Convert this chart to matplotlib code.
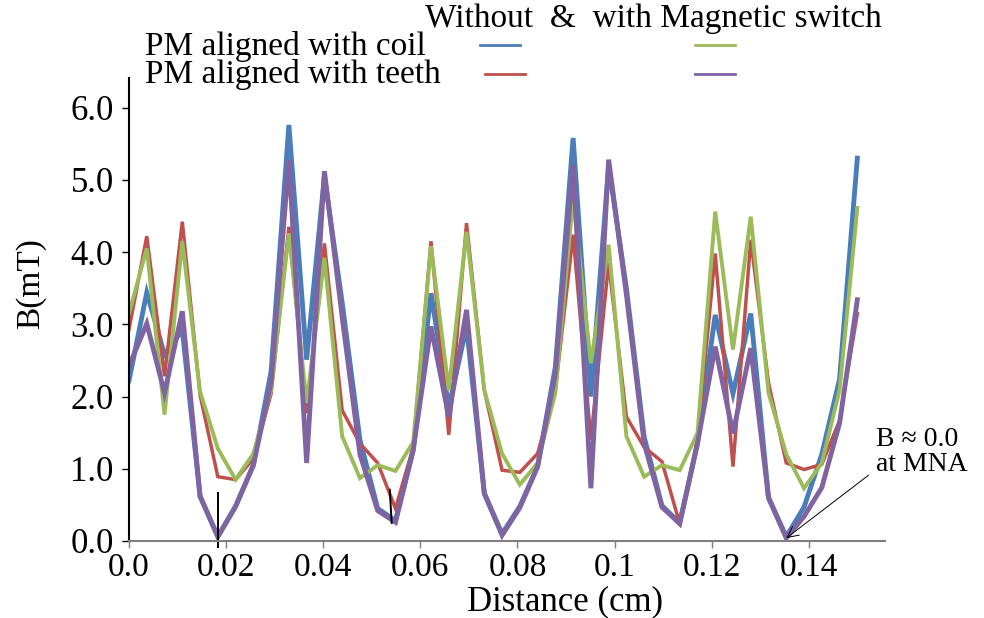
import matplotlib
matplotlib.use('Agg')
import matplotlib.pyplot as plt
from matplotlib.lines import Line2D
import numpy as np

plt.rcParams['font.family'] = ['Liberation Serif', 'DejaVu Serif']

# --- data: B (mT) along distance, 42 samples over 0..0.15 cm ---
n_pts = 42
x_max = 0.15
distance = np.arange(n_pts) * x_max / (n_pts - 1)

coil_without = [2.22, 3.44, 2.58, 2.92, 0.62, 0.06, 0.48, 1.05, 2.35, 5.76,
                2.51, 5.05, 3.30, 1.40, 0.45, 0.28, 1.26, 3.43, 1.85, 2.97,
                0.66, 0.10, 0.48, 1.03, 2.41, 5.58, 2.00, 5.20, 3.50, 1.44,
                0.49, 0.25, 1.35, 3.13, 2.04, 3.15, 0.60, 0.06, 0.47, 1.20,
                2.24, 5.30]
teeth_without = [2.93, 4.22, 2.28, 4.42, 2.02, 0.89, 0.85, 1.14, 2.04, 4.35,
                 1.77, 4.12, 1.81, 1.35, 1.08, 0.45, 1.30, 4.15, 1.47, 4.40,
                 2.09, 0.98, 0.95, 1.21, 2.09, 4.24, 1.40, 3.85, 1.72, 1.30,
                 1.10, 0.24, 1.40, 3.98, 1.03, 4.17, 2.19, 1.08, 0.99, 1.06,
                 1.67, 3.15]
coil_with = [3.15, 4.05, 1.75, 4.15, 2.07, 1.28, 0.85, 1.21, 2.09, 4.26,
             1.91, 3.92, 1.45, 0.87, 1.05, 0.97, 1.37, 4.08, 2.09, 4.28,
             2.09, 1.21, 0.78, 1.08, 2.05, 4.75, 2.46, 4.10, 1.45, 0.89,
             1.05, 0.98, 1.49, 4.56, 2.65, 4.49, 2.05, 1.20, 0.73, 1.08,
             2.09, 4.61]
teeth_with = [2.42, 3.01, 2.05, 3.18, 0.62, 0.06, 0.48, 1.05, 2.20, 5.28,
              1.08, 5.12, 3.10, 1.20, 0.42, 0.26, 1.26, 2.97, 1.72, 3.20,
              0.66, 0.08, 0.46, 1.03, 2.32, 5.21, 0.73, 5.28, 3.41, 1.35,
              0.47, 0.24, 1.35, 2.69, 1.49, 2.67, 0.60, 0.04, 0.34, 0.74,
              1.63, 3.34]

x_ticks = [0.0, 0.02, 0.04, 0.06, 0.08, 0.10, 0.12, 0.14]
x_tick_labels = ['0.0', '0.02', '0.04', '0.06', '0.08', '0.1', '0.12', '0.14']
y_ticks = [0, 1, 2, 3, 4, 5, 6]
y_tick_labels = ['0.0', '1.0', '2.0', '3.0', '4.0', '5.0', '6.0']

# little hand-drawn markers near two minima (x0, x1, y0, y1)
marks = [(0.0183, 0.0183, -0.08, 0.66), (0.0537, 0.0541, 0.71, 0.25)]
mna_point = (distance[37], 0.04)

c_blue, c_red, c_green, c_purple = '#4a7ebb', '#c0504d', '#9bbb59', '#8064a2'

fig = plt.figure(figsize=(9.84, 6.18), dpi=100)
ax = fig.add_axes([0.1311, 0.1246, 0.7683, 0.7492])

ax.plot(distance, coil_without, color=c_blue, lw=3.5, solid_joinstyle='miter')
ax.plot(distance, teeth_without, color=c_red, lw=2.5, solid_joinstyle='miter')
ax.plot(distance, coil_with, color=c_green, lw=2.8, solid_joinstyle='miter')
ax.plot(distance, teeth_with, color=c_purple, lw=3.5, solid_joinstyle='miter')

for x0, x1, y0, y1 in marks:
    ax.plot([x0, x1], [y0, y1], color='black', lw=1.4, clip_on=False)

ax.annotate('B ≈ 0.0\nat MNA', xy=mna_point, xytext=(0.1538, 1.23),
            fontsize=20, ha='left', va='center', linespacing=1.0,
            arrowprops=dict(arrowstyle='->', color='black', lw=0.7,
                            shrinkA=4, shrinkB=0,
                            relpos=(0.0, 0.15)))

ax.set_xlim(0, 0.1557)
ax.set_ylim(0, 6.41)
ax.set_xticks(x_ticks)
ax.set_xticklabels(x_tick_labels, fontsize=24)
ax.set_yticks(y_ticks)
ax.set_yticklabels(y_tick_labels, fontsize=25)
ax.tick_params(axis='x', length=5, width=1, colors='#7f7f7f', labelcolor='black', pad=3)
ax.tick_params(axis='y', length=5, width=1, colors='black', pad=6)

for s in ['top', 'right']:
    ax.spines[s].set_visible(False)
ax.spines['left'].set_color('black')
ax.spines['left'].set_linewidth(1.5)
ax.spines['bottom'].set_color('#7f7f7f')
ax.spines['bottom'].set_linewidth(1.5)

ax.set_xlabel('Distance (cm)', fontsize=25, va='bottom')
ax.xaxis.set_label_coords(0.577, -77 / 463)
ax.set_ylabel('B(mT)', fontsize=24, va='center')
ax.yaxis.set_label_coords(-0.13, 0.555)

# custom legend block at the top
fig.text(425 / 984, 1 - 19 / 618, 'Without  &  with Magnetic switch', fontsize=24,
         ha='left', va='center')
fig.text(145 / 984, 1 - 47 / 618, 'PM aligned with coil', fontsize=24,
         ha='left', va='center')
fig.text(145 / 984, 1 - 75 / 618, 'PM aligned with teeth', fontsize=24,
         ha='left', va='center')
legend_rows = [(480, 45, c_blue), (695, 45, c_green), (485, 74, c_red), (695, 74, c_purple)]
for px, py, col in legend_rows:
    fig.add_artist(Line2D([px / 984, (px + 40) / 984], [1 - py / 618, 1 - py / 618],
                          color=col, lw=2, transform=fig.transFigure))

fig.savefig('out.png', dpi=100)
